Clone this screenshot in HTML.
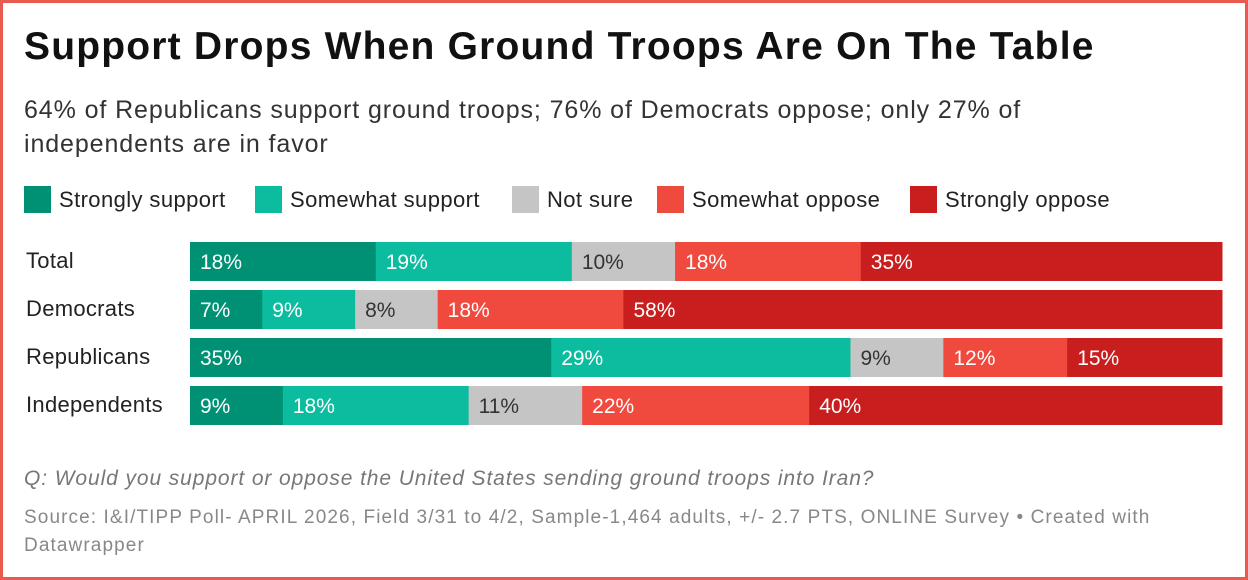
<!DOCTYPE html>
<html><head><meta charset="utf-8"><style>
body{margin:0;width:1248px;height:580px;overflow:hidden;background:#fff;font-family:"Liberation Sans",sans-serif}
#frame{position:absolute;left:0;top:0;width:1242px;height:574px;border:3px solid #e95a4f}
.t{position:absolute;white-space:nowrap}
.leg{position:absolute;top:186px;display:flex;align-items:center;font-size:22px;letter-spacing:0.4px;color:#222}
.leg span{display:inline-block;width:27px;height:27px;margin-right:8px}
</style></head><body>
<div id="frame"></div>
<div class="t" style="left:24px;top:25px;font-size:39px;letter-spacing:1.2px;font-weight:bold;color:#111">Support Drops When Ground Troops Are On The Table</div>
<div class="t" style="left:24px;top:93px;font-size:25px;letter-spacing:0.9px;line-height:34px;color:#333;white-space:normal;width:1100px">64% of Republicans support ground troops; 76% of Democrats oppose; only 27% of independents are in favor</div>
<div id="legend"></div>
<svg id="chart" width="1248" height="580" style="position:absolute;left:0;top:0"></svg>
<div class="t" style="left:24px;top:467px;font-size:21px;letter-spacing:0.9px;font-style:italic;color:#777">Q: Would you support or oppose the United States sending ground troops into Iran?</div>
<div class="t" style="left:24px;top:504px;font-size:19px;letter-spacing:1.1px;line-height:28px;color:#888;white-space:normal;width:1150px">Source: I&amp;I/TIPP Poll- APRIL 2026, Field 3/31 to 4/2, Sample-1,464 adults, +/- 2.7 PTS, ONLINE Survey • Created with Datawrapper</div>
<script>
const categories=["Total","Democrats","Republicans","Independents"];
const seriesNames=["Strongly support","Somewhat support","Not sure","Somewhat oppose","Strongly oppose"];
const strongSupport=[18,7,35,9];
const someSupport=[19,9,29,18];
const notSure=[10,8,9,11];
const someOppose=[18,18,12,22];
const strongOppose=[35,58,15,40];
const colors=["#009175","#0bbc9f","#c5c5c5","#f0493e","#c81e1e"];
const series=[strongSupport,someSupport,notSure,someOppose,strongOppose];
const legX=[24,255,512,657,910];
const leg=document.getElementById('legend');
seriesNames.forEach((n,i)=>{const d=document.createElement('div');d.className='leg';d.style.left=legX[i]+'px';


d.innerHTML='<span style="background:'+colors[i]+'"></span>'+n;leg.appendChild(d);});
const x0=190,W=1032,y0=242,step=48,bh=39;
const xs=v=>v/100*W;
const svg=document.getElementById('chart');const NS='http://www.w3.org/2000/svg';
categories.forEach((c,r)=>{
 const y=y0+r*step;
 const lt=document.createElementNS(NS,'text');lt.setAttribute('x',26);lt.setAttribute('y',y+26);lt.setAttribute('font-size','22');lt.setAttribute('letter-spacing','0.3');lt.setAttribute('fill','#222');lt.textContent=c;
 
 
 svg.appendChild(lt);
 let total=series.reduce((a,s)=>a+s[r],0);let acc=0;
 series.forEach((s,i)=>{
  const x=x0+xs(acc/total*100),w=xs(s[r]/total*100);acc+=s[r];
  const rc=document.createElementNS(NS,'rect');rc.setAttribute('x',x);rc.setAttribute('y',y);rc.setAttribute('width',w+0.5);rc.setAttribute('height',bh);rc.setAttribute('fill',colors[i]);
  
  
  svg.appendChild(rc);
  const t=document.createElementNS(NS,'text');t.setAttribute('x',x+10);t.setAttribute('y',y+27);t.setAttribute('font-size','21');t.setAttribute('fill',i==2?'#333':'#fff');t.textContent=s[r]+'%';
  
  
  svg.appendChild(t);
 });
});
</script>
</body></html>
